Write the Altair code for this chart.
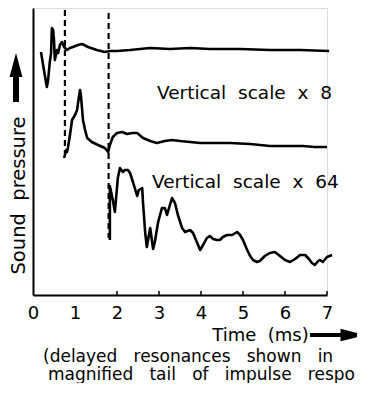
import altair as alt
import pandas as pd

# ---- data (time in ms, level in arbitrary plotted units) ----
t1 = [0.19, 0.26, 0.33, 0.36, 0.40, 0.43, 0.45, 0.48, 0.50, 0.52, 0.57, 0.60, 0.64, 0.69,
      0.74, 0.81, 0.88, 0.95, 1.07, 1.17, 1.31, 1.52, 1.71, 1.83, 2.00, 2.31, 2.79, 3.26,
      3.74, 4.21, 4.93, 5.64, 6.36, 7.05]
v1 = [243, 225, 208, 215, 233, 242, 267, 265, 255, 235, 245, 242, 250, 253,
      248, 245, 247, 248, 250, 251, 248, 245, 243, 244, 244, 245, 247, 246,
      247, 246, 246, 245, 245, 244]

t2 = [0.74, 0.76, 0.79, 0.81, 0.83, 0.88, 0.93, 1.00, 1.05, 1.10, 1.12, 1.14, 1.19, 1.24,
      1.29, 1.40, 1.55, 1.71, 1.79, 1.83, 1.90, 2.00, 2.12, 2.24, 2.36, 2.48, 2.62, 2.79,
      2.95, 3.14, 3.31, 3.50, 3.74, 3.98, 4.21, 4.69, 5.17, 5.64, 6.12, 6.43, 6.71, 7.0]
v2 = [137, 140, 145, 143, 147, 160, 175, 180, 185, 200, 205, 200, 175, 165,
      157, 153, 150, 147, 143, 150, 158, 162, 163, 161, 162, 162, 157, 154,
      152, 154, 155, 154, 153, 152, 152, 152, 151, 149, 149, 149, 148, 148]

t3 = [1.83, 1.83, 1.90, 1.95, 2.02, 2.07, 2.14, 2.19, 2.26, 2.31, 2.38, 2.48, 2.52, 2.60,
      2.62, 2.67, 2.71, 2.79, 2.86, 2.90, 2.98, 3.07, 3.14, 3.19, 3.26, 3.31, 3.38, 3.45,
      3.55, 3.62, 3.74, 3.81, 3.90, 3.98, 4.05, 4.14, 4.21, 4.29, 4.38, 4.45, 4.52, 4.62,
      4.74, 4.86, 4.93, 5.00, 5.10, 5.17, 5.24, 5.33, 5.40, 5.52, 5.64, 5.76, 5.88, 6.00,
      6.12, 6.24, 6.36, 6.48, 6.57, 6.64, 6.71, 6.79, 6.83, 6.90, 7.00, 7.12]
v3 = [55, 109, 95, 83, 117, 127, 123, 125, 125, 122, 113, 99, 105, 107,
      92, 63, 48, 67, 46, 53, 73, 87, 87, 80, 90, 97, 92, 80,
      67, 63, 65, 62, 53, 45, 50, 57, 59, 56, 55, 55, 58, 60,
      60, 63, 60, 55, 45, 39, 35, 33, 34, 39, 42, 43, 39, 35,
      33, 36, 40, 40, 36, 32, 30, 34, 35, 33, 38, 40]

dash_t = [0.76, 1.80]
dash_top = [285, 282]
dash_bottom = [140, 57]

tick_t = [2, 3, 4, 5, 6, 7]
x_labels = [0, 1, 2, 3, 4, 5, 6, 7]

caption_line1 = ["(delayed", "resonances", "shown", "in"]
caption_line2 = ["magnified", "tail", "of", "impulse", "respo"]

FONT = "DejaVu Sans"
S = "\u00a0 "
S2 = "\u00a0\u00a0 "

rows = []
for name, ts, vs in (("direct", t1, v1), ("x8", t2, v2), ("x64", t3, v3)):
    for i, (t, v) in enumerate(zip(ts, vs)):
        rows.append({"trace": name, "i": i, "t": t, "v": v})
traces = pd.DataFrame(rows)

xs = alt.Scale(domain=[0, 7], nice=False, zero=True)
ys = alt.Scale(domain=[0, 287], nice=False)

base_x_axis = alt.Axis(values=x_labels, ticks=False, grid=False, domainColor="black",
                       domainWidth=2, labelFont=FONT, labelFontSize=18, labelColor="black",
                       labelPadding=9, labelFlush=False, labelOverlap=False,
                       title="Time" + S + "(ms)", titleFont=FONT, titleFontSize=18,
                       titleFontWeight="normal", titleColor="black", titleX=227, titleY=40,
                       titleAlign="center", titleBaseline="middle")
base_y_axis = alt.Axis(labels=False, ticks=False, grid=False, domainColor="black",
                       domainWidth=2, title="Sound" + S + "pressure", titleFont=FONT,
                       titleFontSize=19.5, titleFontWeight="normal", titleColor="black",
                       titleAngle=270, titleX=-15, titleY=187, titleAlign="center",
                       titleBaseline="middle")

lines = alt.Chart(traces).mark_line(color="black", strokeWidth=2.6, strokeJoin="round",
                                    clip=False).encode(
    x=alt.X("t:Q", scale=xs, axis=base_x_axis),
    y=alt.Y("v:Q", scale=ys, axis=base_y_axis),
    detail="trace:N",
    order="i:Q",
)

dash_df = pd.DataFrame({"t": dash_t, "top": dash_top, "bottom": dash_bottom})
dashes = alt.Chart(dash_df).mark_rule(color="black", strokeWidth=2.2, strokeDash=[6, 4]).encode(
    x=alt.X("t:Q", scale=xs), y=alt.Y("top:Q", scale=ys), y2="bottom:Q")

tick_df = pd.DataFrame({"t": tick_t, "y0": [0] * len(tick_t), "y1": [4] * len(tick_t)})
ticks = alt.Chart(tick_df).mark_rule(color="black", strokeWidth=1.5).encode(
    x=alt.X("t:Q", scale=xs), y=alt.Y("y0:Q", scale=ys), y2="y1:Q")


def label(txt, x, y, size=18.5, align="left"):
    return alt.Chart(pd.DataFrame({"a": [0]})).mark_text(
        text=txt, font=FONT, fontSize=size, color="black", align=align,
        baseline="middle").encode(x=alt.value(x), y=alt.value(y))


lab8 = label("Vertical" + S + "scale" + S + "x" + S + "8", 124, 85)
lab64 = label("Vertical" + S + "scale" + S + "x" + S + "64", 119, 174)
cap1 = label(S2.join(caption_line1), 10, 349, size=17)
cap2 = label(S2.join(caption_line2), 15, 367, size=17)

# arrows
xshaft = alt.Chart(pd.DataFrame({"a": [0]})).mark_rule(color="black", strokeWidth=4).encode(
    x=alt.value(277), x2=alt.value(312), y=alt.value(327))
xhead = alt.Chart(pd.DataFrame({"a": [0]})).mark_point(
    shape="M -1 -0.5 L 1 0 L -1 0.5 Z", filled=True, color="black", opacity=1, size=625
).encode(x=alt.value(320), y=alt.value(327))
yshaft = alt.Chart(pd.DataFrame({"a": [0]})).mark_rule(color="black", strokeWidth=6).encode(
    x=alt.value(-17), y=alt.value(66), y2=alt.value(94))
yhead = alt.Chart(pd.DataFrame({"a": [0]})).mark_point(
    shape="M -0.54 1 L 0 -1 L 0.54 1 Z", filled=True, color="black", opacity=1, size=576
).encode(x=alt.value(-17), y=alt.value(57))

chart = alt.layer(lines, dashes, ticks, lab8, lab64, cap1, cap2,
                  xshaft, xhead, yshaft, yhead).properties(
    width=294, height=287,
    autosize=alt.AutoSizeParams(type="none"),
    padding={"left": 25, "top": 0, "right": 30, "bottom": 88},
).configure_view(stroke=None).configure(background="white")

chart.save("out.html", embed_options={"renderer": "svg", "actions": False})
